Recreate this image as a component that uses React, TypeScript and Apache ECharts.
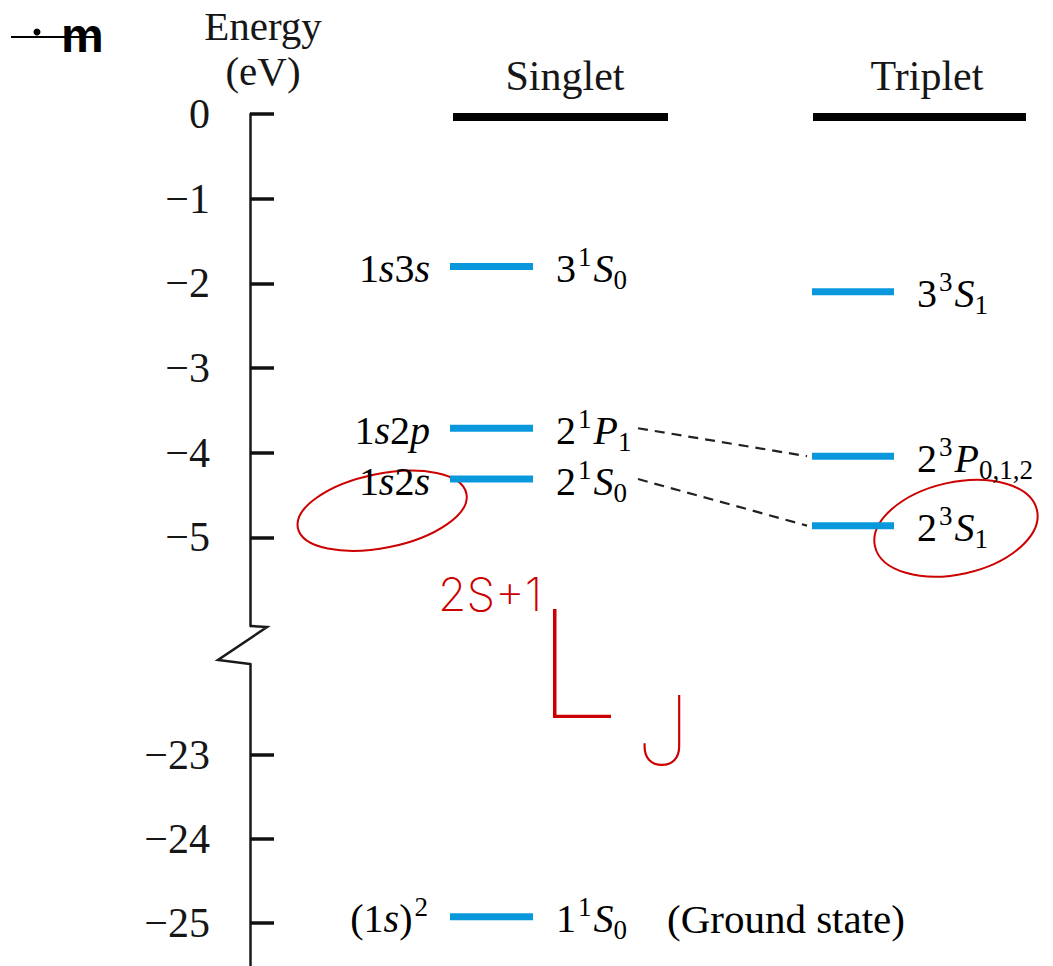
import React, { useEffect, useRef } from 'react';
import * as echarts from 'echarts';

// ---- data ----
const upperTicks = [0, -1, -2, -3, -4, -5];
const lowerTicks = [-23, -24, -25];

const singletEnergies = [-1.8, -3.71, -4.31];
const singletConfigs = ['{n|1}{it|s}{n|3}{it|s}', '{n|1}{it|s}{n|2}{it|p}', '{n|1}{it|s}{n|2}{it|s}'];
const singletTerms = ['{n|3}{sup|1}{it|S}{sub|0}', '{n|2}{sup|1}{it|P}{sub|1}', '{n|2}{sup|1}{it|S}{sub|0}'];

const tripletEnergies = [-2.1, -4.04, -4.86];
const tripletTerms = ['{n|3}{sup|3}{it|S}{sub|1}', '{n|2}{sup|3}{it|P}{sub|0,1,2}', '{n|2}{sup|3}{it|S}{sub|1}'];

const groundEnergies = [-24.93];
const groundConfigs = ['{n|(1}{it|s}{n|)}{sup|2}'];
const groundTerms = ['{n|1}{sup|1}{it|S}{sub|0}{gs|(Ground state)}'];

const ionizationEnergies = [0, 0];

// singlet level -> triplet level (dashed links)
const linkFrom = [-3.71, -4.31];
const linkTo = [-4.04, -4.86];

// ---- layout / style ----
const BLUE = '#0a98dc';
const INK = '#161616';
const SERIF = '"Liberation Serif", "Times New Roman", serif';
const SINGLET_COL = [200, 283];
const TRIPLET_COL = [562, 644];
const ION_COLS = [[203, 418], [563, 776]];
const LINK_X = [388, 557];

const rich: any = {
  n: { fontSize: 40, lineHeight: 50, fontFamily: SERIF, color: INK },
  it: { fontSize: 40, lineHeight: 50, fontFamily: SERIF, fontStyle: 'italic', color: INK },
  sup: { fontSize: 27, lineHeight: 26, fontFamily: SERIF, verticalAlign: 'top', color: INK, padding: [0, 2, 0, 2] },
  sub: { fontSize: 27, lineHeight: 26, fontFamily: SERIF, verticalAlign: 'bottom', color: INK },
  gs: { fontSize: 41, lineHeight: 50, fontFamily: SERIF, color: INK, padding: [0, 0, 0, 40] },
};

function levelSeries(
  gridIdx: number,
  energies: number[],
  col: number[],
  leftLabels: string[] | null,
  rightLabels: string[] | null,
  color: string,
  top: number,
  thickness: number
) {
  return {
    type: 'custom',
    xAxisIndex: gridIdx,
    yAxisIndex: gridIdx,
    clip: false,
    encode: { y: 0, x: [1, 2] },
    data: energies.map((e) => [e, col[0], col[1]]),
    renderItem: (params: any, api: any) => {
      const e = api.value(0);
      const p0 = api.coord([api.value(1), e]);
      const p1 = api.coord([api.value(2), e]);
      const i = params.dataIndex;
      const children: any[] = [
        {
          type: 'rect',
          shape: { x: p0[0], y: p0[1] - top, width: p1[0] - p0[0], height: thickness },
          style: { fill: color },
        },
      ];
      if (leftLabels && leftLabels[i]) {
        children.push({
          type: 'text',
          x: p0[0] - 20,
          y: p0[1] + 2,
          style: { text: leftLabels[i], rich, align: 'right', verticalAlign: 'middle' },
        });
      }
      if (rightLabels && rightLabels[i]) {
        children.push({
          type: 'text',
          x: p1[0] + 23,
          y: p0[1] + 2,
          style: { text: rightLabels[i], rich, align: 'left', verticalAlign: 'middle' },
        });
      }
      return { type: 'group', children };
    },
  };
}

const fmt = (v: number) => (v < 0 ? '\u2212' + Math.abs(v) : String(v));

function yAxisFor(gridIdx: number, min: number, max: number, ticks: number[], extra: any = {}) {
  return {
    type: 'value',
    gridIndex: gridIdx,
    min,
    max,
    axisLine: { show: true, onZero: false, lineStyle: { color: '#1a1a1a', width: 2.5 } },
    axisTick: { show: true, inside: true, length: 24, customValues: ticks, lineStyle: { color: '#111', width: 3.5 } },
    axisLabel: {
      show: true,
      customValues: ticks,
      formatter: fmt,
      margin: 40,
      fontSize: 42,
      fontFamily: SERIF,
      color: INK,
      padding: [6, 0, 0, 0],
    },
    splitLine: { show: false },
    ...extra,
  };
}

export default function App() {
  const ref = useRef<HTMLDivElement>(null);

  useEffect(() => {
    if (!ref.current) return;
    const chart = echarts.init(ref.current, undefined, { renderer: 'svg' });

    const option: any = {
      animation: false,
      backgroundColor: '#ffffff',
      grid: [
        { left: 250, right: 0, top: 114, height: 512 },
        { left: 250, right: 0, top: 664, height: 302 },
      ],
      xAxis: [
        { type: 'value', gridIndex: 0, min: 0, max: 803, show: false },
        { type: 'value', gridIndex: 1, min: 0, max: 803, show: false },
      ],
      yAxis: [
        yAxisFor(0, -6.045, 0, upperTicks, {
          name: 'Energy\n(eV)',
          nameLocation: 'end',
          nameGap: 20,
          nameTextStyle: {
            fontSize: 41,
            lineHeight: 45,
            fontFamily: SERIF,
            color: INK,
            align: 'center',
            verticalAlign: 'bottom',
            padding: [0, 0, 0, 26],
          },
        }),
        yAxisFor(1, -25.515, -21.92, lowerTicks),
      ],
      series: [
        levelSeries(0, ionizationEnergies.slice(0, 1), ION_COLS[0], null, null, '#000', 1, 8),
        levelSeries(0, ionizationEnergies.slice(1, 2), ION_COLS[1], null, null, '#000', 1, 8),
        levelSeries(0, singletEnergies, SINGLET_COL, singletConfigs, singletTerms, BLUE, 3.5, 7),
        levelSeries(0, tripletEnergies, TRIPLET_COL, null, tripletTerms, BLUE, 3.5, 7),
        levelSeries(1, groundEnergies, SINGLET_COL, groundConfigs, groundTerms, BLUE, 3.5, 7),
        ...linkFrom.map((e, i) => ({
          type: 'line',
          xAxisIndex: 0,
          yAxisIndex: 0,
          symbol: 'none',
          silent: true,
          data: [
            [LINK_X[0], e],
            [LINK_X[1], linkTo[i]],
          ],
          lineStyle: { color: '#222', width: 2.2, type: [10, 7] },
        })),
      ],
      graphic: [
        // axis break zigzag
        {
          type: 'polyline',
          shape: { points: [[250, 626], [267, 627], [218, 660], [250, 664]] },
          style: { stroke: '#1a1a1a', lineWidth: 2.5, fill: 'none' },
        },
        // column headers
        {
          type: 'text',
          x: 565,
          y: 76,
          style: { text: 'Singlet', fontSize: 42, fontFamily: SERIF, fill: INK, align: 'center', verticalAlign: 'middle' },
        },
        {
          type: 'text',
          x: 927,
          y: 76,
          style: { text: 'Triplet', fontSize: 42, fontFamily: SERIF, fill: INK, align: 'center', verticalAlign: 'middle' },
        },
        // top-left mark
        { type: 'line', shape: { x1: 11, y1: 37, x2: 100, y2: 37 }, style: { stroke: '#000', lineWidth: 2 } },
        { type: 'circle', shape: { cx: 37, cy: 32, r: 3.5 }, style: { fill: '#000' } },
        {
          type: 'text',
          x: 61,
          y: 35,
          style: {
            text: 'm',
            fontSize: 48,
            fontWeight: 'bold',
            fontFamily: '"Liberation Sans", Arial, sans-serif',
            fill: '#000',
            align: 'left',
            verticalAlign: 'middle',
          },
        },
        // red handwritten annotations
        {
          type: 'ellipse',
          shape: { cx: 382, cy: 511, rx: 86, ry: 37 },
          rotation: 0.2,
          originX: 382,
          originY: 511,
          style: { stroke: '#cc0000', lineWidth: 2, fill: 'none' },
        },
        {
          type: 'ellipse',
          shape: { cx: 956, cy: 528, rx: 83, ry: 46 },
          rotation: 0.22,
          originX: 956,
          originY: 528,
          style: { stroke: '#cc0000', lineWidth: 2, fill: 'none' },
        },
        {
          type: 'text',
          x: 438,
          y: 594,
          style: {
            text: '2S+1',
            fontSize: 46,
            fontWeight: 200,
            fontFamily: 'Inter, "DejaVu Sans", sans-serif',
            fill: '#cc0000',
            align: 'left',
            verticalAlign: 'middle',
          },
        },
        {
          type: 'text',
          x: 536,
          y: 663,
          style: {
            text: 'L',
            fontSize: 150,
            fontWeight: 100,
            fontFamily: 'Inter, "DejaVu Sans", sans-serif',
            fill: '#cc0000',
            align: 'left',
            verticalAlign: 'middle',
          },
        },
        {
          type: 'text',
          x: 636,
          y: 730,
          style: {
            text: 'J',
            fontSize: 96,
            fontWeight: 100,
            fontFamily: 'Inter, "DejaVu Sans", sans-serif',
            fill: '#cc0000',
            align: 'left',
            verticalAlign: 'middle',
          },
        },
      ],
    };

    chart.setOption(option);
    return () => chart.dispose();
  }, []);

  return (
    <div
      ref={ref}
      style={{ position: 'fixed', left: 0, top: 0, width: 1053, height: 966, background: '#fff' }}
    />
  );
}
